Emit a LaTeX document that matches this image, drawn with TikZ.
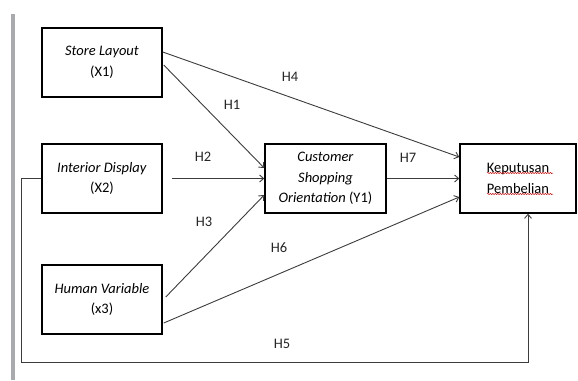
\documentclass[tikz,border=0pt]{standalone}
\usepackage{fontspec}
\setmainfont{Carlito}
\usetikzlibrary{arrows.meta,calc,decorations.pathmorphing}
\definecolor{barc}{HTML}{A8AAAD}
\definecolor{arrc}{HTML}{3C3C3C}
\tikzset{
  box/.style={draw=black, line width=1.5pt, minimum width=120pt, minimum height=69pt,
    inner sep=0pt, align=center, font=\fontsize{14.5}{20.5}\selectfont},
  arr/.style={draw=arrc, line width=0.9pt, -{Straight Barb[length=4pt,width=7pt]}},
  lbl/.style={font=\fontsize{14.5}{17}\selectfont, text=black!85, inner sep=0pt},
  wavy/.style={draw=red!75!black, line width=0.5pt, decorate,
    decoration={snake, amplitude=0.6pt, segment length=2.5pt}}
}
\begin{document}
\begin{tikzpicture}[x=1pt,y=-1pt]
\useasboundingbox (0,0) rectangle (578,380);
\fill[barc] (10.5,14) rectangle (14.5,380);

\node[box] (store) at (102,62.5) {\textit{Store Layout}\\(X1)};
\node[box] (inter) at (102,178.5) {\textit{Interior Display}\\(X2)};
\node[box] (human) at (102,299.5) {\textit{Human Variable}\\(x3)};
\node[box, minimum width=121pt] (cust) at (325.5,178.5) {\textit{Customer}\\\textit{Shopping}\\\textit{Orientation} (Y1)};
\node[box, minimum width=116pt] (kep) at (518,178.5) {Keputusan\\Pembelian};

\coordinate (w1a) at (487,173);
\coordinate (w1b) at (553,173);
\coordinate (w2a) at (487,194);
\coordinate (w2b) at (553,194);
\draw[wavy] (w1a) -- (w1b);
\draw[wavy] (w2a) -- (w2b);

\draw[arr] ($(store.east)+(0,-10.5)$) -- ($(kep.west)+(0,-21.5)$);
\draw[arr] ($(store.east)+(1,2.5)$) -- ($(cust.west)+(0,-10.5)$);
\draw[arr] ($(inter.east)+(9,0)$) -- (cust.west);
\draw[arr] ($(human.east)+(3,-2.5)$) -- ($(cust.west)+(0,16.5)$);
\draw[arr] ($(human.east)+(1,23.5)$) -- ($(kep.west)+(0,18.5)$);
\draw[arr] (cust.east) -- (kep.west);
\coordinate (h5c) at (21,362.5);
\draw[arr] (inter.west) -| (h5c) -| ($(kep.south)+(10,0)$);

\node[lbl] (h1) at (232,105) {H1};
\node[lbl] (h2) at (203,157) {H2};
\node[lbl] (h3) at (204,222) {H3};
\node[lbl] (h4) at (290,77) {H4};
\node[lbl] (h5) at (282,344) {H5};
\node[lbl] (h6) at (279,248) {H6};
\node[lbl] (h7) at (408,158) {H7};
\end{tikzpicture}
\end{document}
